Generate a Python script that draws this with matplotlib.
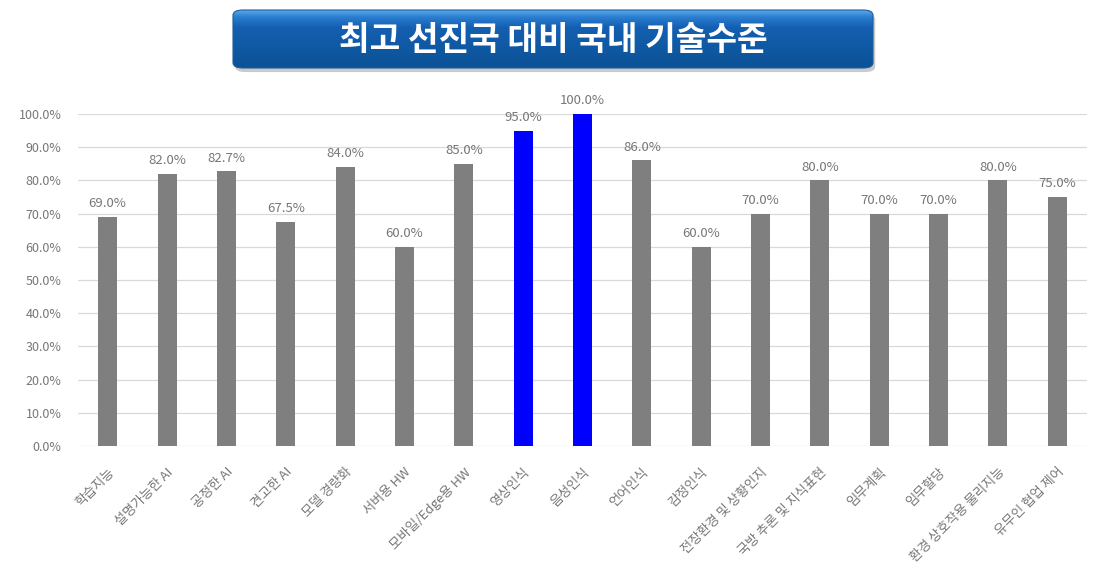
import numpy as np
import matplotlib
matplotlib.use('Agg')
import matplotlib.pyplot as plt
from matplotlib.patches import FancyBboxPatch
from matplotlib.colors import LinearSegmentedColormap
from matplotlib.ticker import PercentFormatter

plt.rcParams['font.family'] = ['Noto Sans CJK KR', 'DejaVu Sans']

# 항목
항목 = ['학습지능', '설명가능한 AI', '공정한 AI', '견고한 AI', '모델 경량화', '서버용 HW',
      '모바일/Edge용 HW', '영상인식', '음성인식', '언어인식', '감정인식',
      '전장환경 및 상황인지', '국방 추론 및 지식표현', '임무계획', '임무할당',
      '환경 상호작용 물리지능', '유무인 협업 제어']

# 기술수준 (%)
수준 = [69.0, 82.0, 82.7, 67.5, 84.0, 60.0, 85.0, 95.0, 100.0, 86.0, 60.0,
      70.0, 80.0, 70.0, 70.0, 80.0, 75.0]

# 강조 항목
강조 = ['영상인식', '음성인식']

제목 = '최고 선진국 대비 국내 기술수준'

W, H = 1110, 580
글자색 = '#767676'
fig = plt.figure(figsize=(W / 100, H / 100), dpi=100)
ax = fig.add_axes([78 / W, 1 - 446 / H, (1087 - 78) / W, (446 - 114) / H])

x = np.arange(len(항목))
colors = ['#0000ff' if n in 강조 else '#7f7f7f' for n in 항목]
bars = ax.bar(x, 수준, width=0.32, color=colors, zorder=3)

for b, v in zip(bars, 수준):
    ax.text(b.get_x() + b.get_width() / 2, v + 2.0, f'{v:.1f}%', ha='center', va='bottom',
            fontsize=9.5, color=글자색)

ax.set_xlim(-0.5, len(항목) - 0.5)
ax.set_ylim(0, 100)
ax.set_yticks(np.arange(0, 101, 10))
ax.yaxis.set_major_formatter(PercentFormatter(decimals=1))
ax.grid(axis='y', color='#d9d9d9', linewidth=0.9, zorder=0)
for s in ax.spines.values():
    s.set_visible(False)
ax.tick_params(axis='both', length=0, colors=글자색, labelsize=9)
ax.tick_params(axis='y', pad=12)
ax.set_xticks(x)
ax.set_xticklabels(항목, rotation=45, ha='right', rotation_mode='anchor', fontsize=9.5)
ax.tick_params(axis='x', pad=14)

# 제목 상자
x0, x1, y0, y1 = 233 / W, 873 / W, 1 - 68 / H, 1 - 10 / H
gax = fig.add_axes([0, 0, 1, 1], zorder=-1)
gax.set_axis_off()
gax.set_xlim(0, 1)
gax.set_ylim(0, 1)
shadow = FancyBboxPatch((x0 + 0.002, y0 - 0.007), x1 - x0, y1 - y0,
                        boxstyle='round,pad=0,rounding_size=0.009', transform=gax.transData,
                        facecolor='#a8a8a8', edgecolor='none', alpha=0.6, zorder=1)
gax.add_patch(shadow)
grad = np.linspace(0, 1, 200).reshape(-1, 1)
cmap = LinearSegmentedColormap.from_list(
    't', [(0, '#5aa8ea'), (0.12, '#2a7dd0'), (0.3, '#145fb0'), (1, '#0b5296')])
im = gax.imshow(grad, cmap=cmap, aspect='auto', extent=(x0, x1, y0, y1), origin='upper',
                zorder=2)
clip = FancyBboxPatch((x0, y0), x1 - x0, y1 - y0,
                      boxstyle='round,pad=0,rounding_size=0.009', transform=gax.transData,
                      facecolor='none', edgecolor='#1f5d9c', linewidth=0.8, zorder=3)
gax.add_patch(clip)
im.set_clip_path(clip)
gax.set_xlim(0, 1)
gax.set_ylim(0, 1)
fig.text((x0 + x1) / 2, (y0 + y1) / 2 - 0.003, 제목, ha='center', va='center', color='white',
         fontsize=24, fontweight='bold')

fig.savefig('out.png', dpi=100, facecolor='white')
